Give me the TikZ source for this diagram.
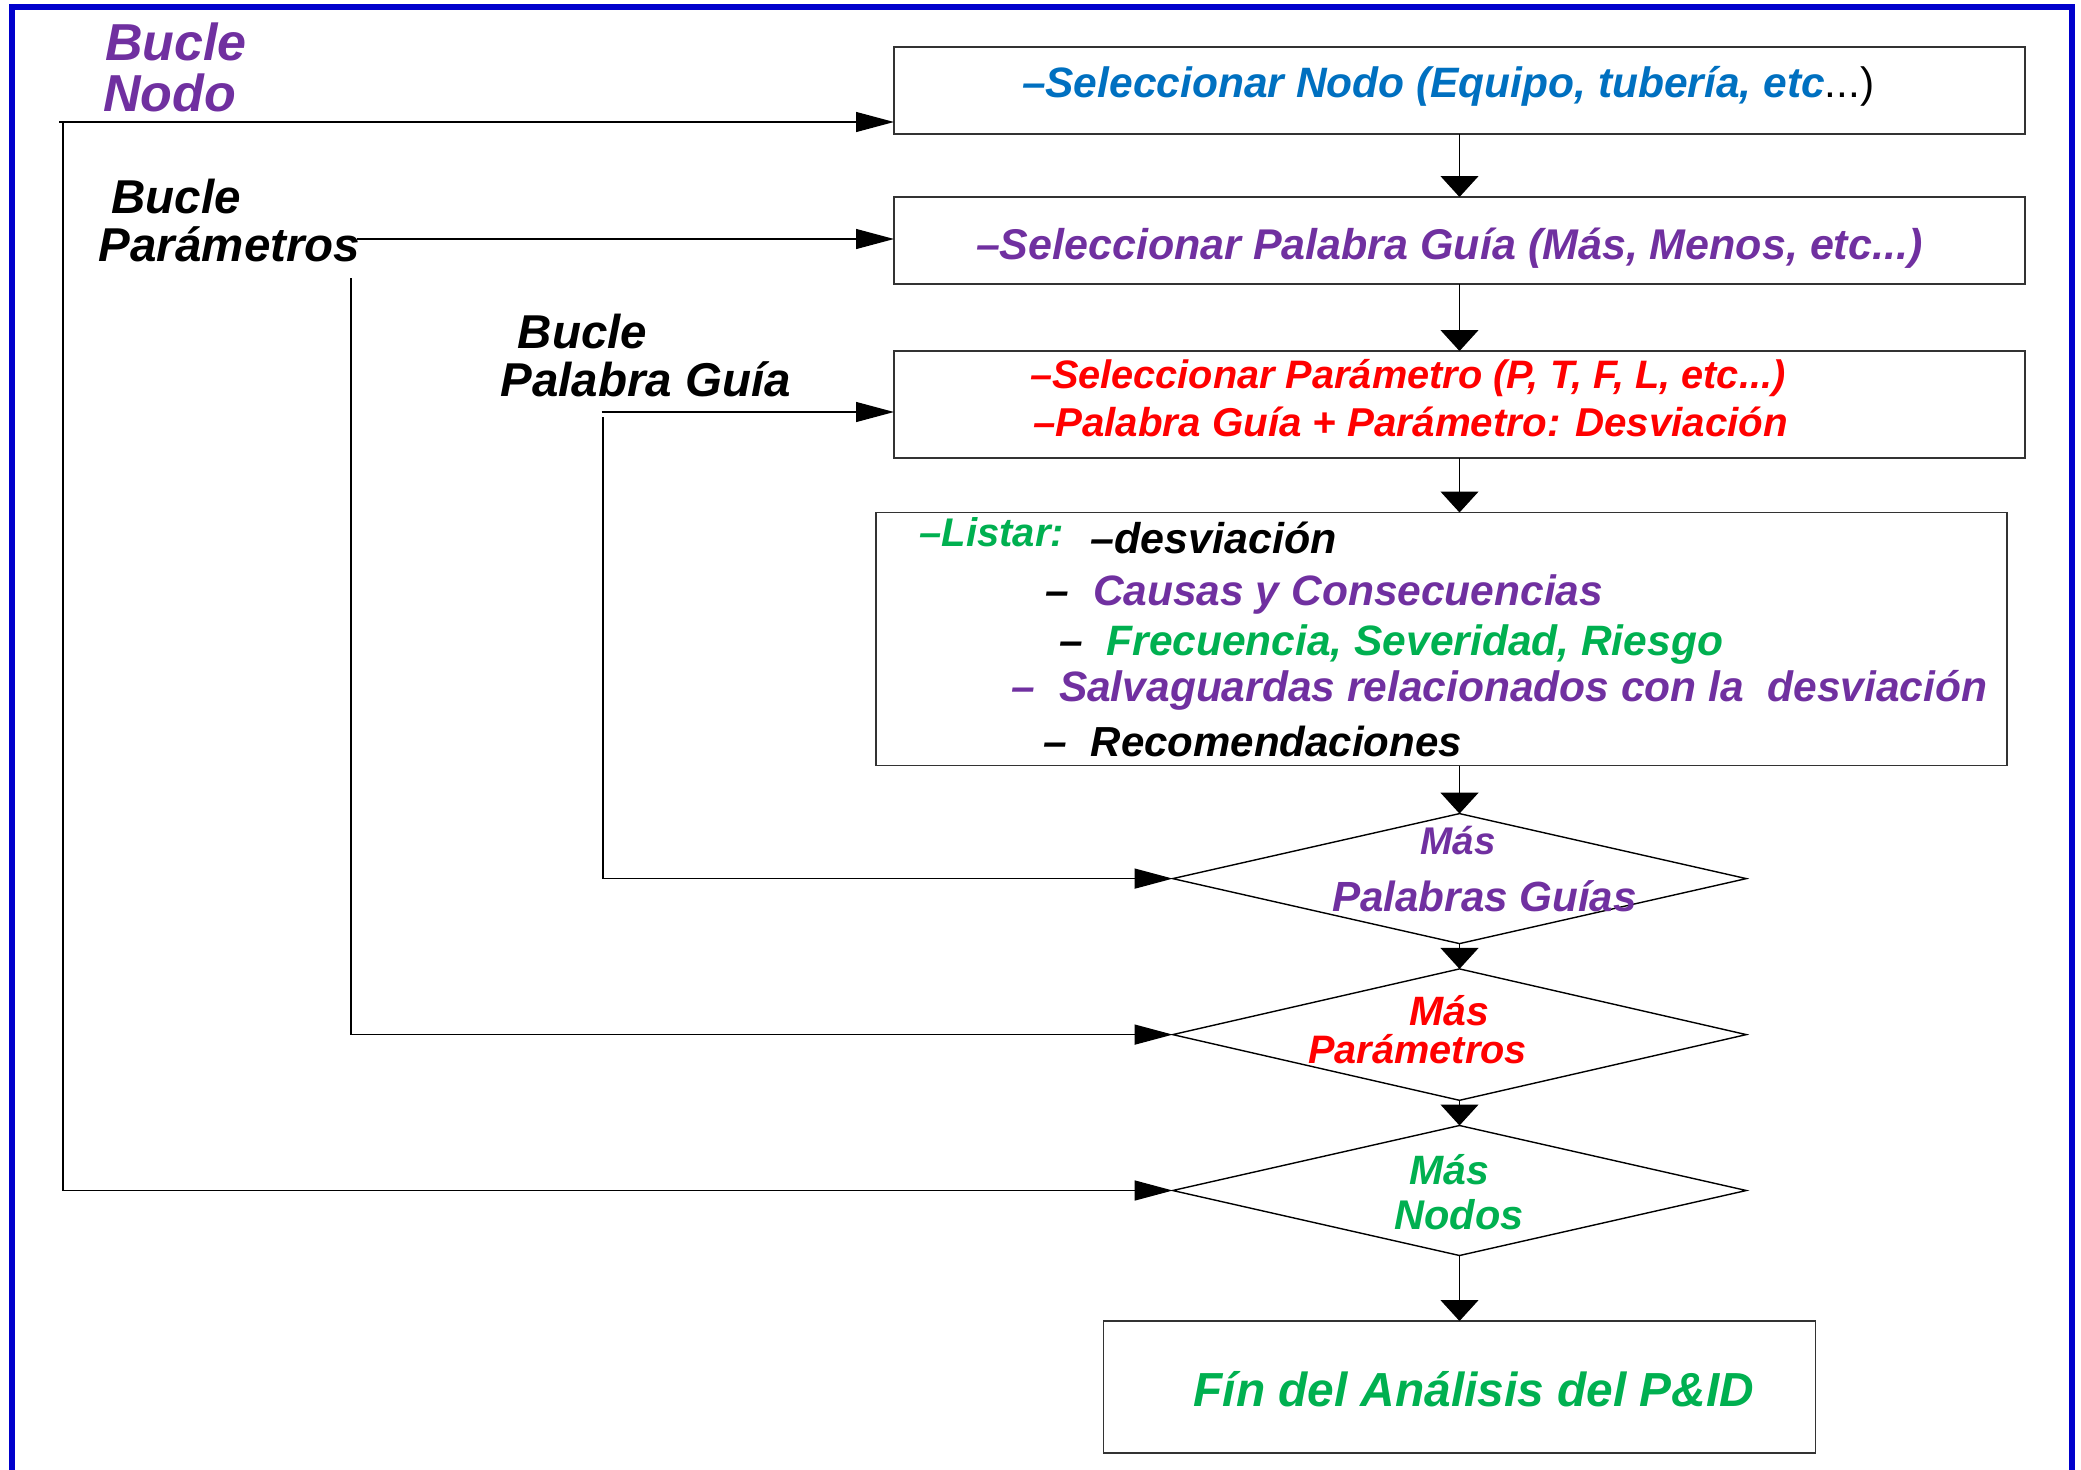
\documentclass[tikz,border=0pt]{standalone}
\usepackage{fontspec}
\setmainfont{Liberation Sans}
\usetikzlibrary{arrows.meta,shapes.geometric,calc}

\definecolor{hzpurple}{RGB}{112,48,160}
\definecolor{hzblue}{RGB}{0,112,192}
\definecolor{hzred}{RGB}{255,0,0}
\definecolor{hzgreen}{RGB}{0,176,80}
\definecolor{framecol}{RGB}{0,0,204}

\tikzset{
  stepbox/.style={draw=black!80, line width=1.6pt, rectangle, inner sep=0pt, outer sep=0pt},
  decision/.style={draw=black, line width=1.4pt, diamond, inner sep=0pt, outer sep=0pt,
    minimum width=573.6pt, minimum height=130pt},
  txt/.style={inner sep=0pt, outer sep=0pt, anchor=base west},
  sz/.style={font=\fontsize{#1}{#1}\selectfont\bfseries\itshape},
  link/.style={draw=black, line width=1.2pt},
  harr/.style={link, -{Triangle[length=38pt,width=20pt]}},
  varr/.style={link, -{Triangle[length=21pt,width=38pt]}},
}

\begin{document}
\begin{tikzpicture}[x=1pt, y=-1pt]
  \useasboundingbox (0,0) rectangle (2081,1470);

  % outer frame (open at the bottom)
  \draw[framecol, line width=5.5pt, line join=miter] (12,1480) -- (12,7) -- (2072,7) -- (2072,1480);

  % process boxes and decisions
  \node[stepbox, minimum width=1131pt, minimum height=87pt]  (box1) at (1459.5,90.5) {};
  \node[stepbox, minimum width=1131pt, minimum height=87pt]  (box2) at (1459.5,240.5) {};
  \node[stepbox, minimum width=1131pt, minimum height=107pt] (box3) at (1459.5,404.5) {};
  \node[stepbox, minimum width=1131pt, minimum height=253pt] (box4) at (1441.5,639) {};
  \node[decision] (d1) at (1459.5,878.6) {};
  \node[decision, minimum height=131.4pt] (d2) at (1459.5,1034.6) {};
  \node[decision] (d3) at (1459.5,1190.5) {};
  \node[stepbox, minimum width=712pt, minimum height=132pt] (box5) at (1459.5,1387) {};

  % main flow
  \draw[varr] (box1.south) -- (box2.north);
  \draw[varr] (box2.south) -- (box3.north);
  \draw[varr] (box3.south) -- (box3.south |- box4.north);
  \draw[varr] (box3.south |- box4.south) -- (d1.north);
  \draw[varr] (d1.south) -- (d2.north);
  \draw[varr] (d2.south) -- (d3.north);
  \draw[varr] (d3.south) -- (d3.south |- box5.north);

  % loop connectors
  \coordinate (nodoStart) at (59.3,122);
  \coordinate (nodoBend)  at (63,122);
  \coordinate (parStart)  at (357,239);
  \coordinate (parBend)   at (351,278);
  \coordinate (pgStart)   at (601.5,412);
  \coordinate (pgBend)    at (603,417);
  \draw[harr] (nodoStart) -- (nodoStart -| box1.west);
  \draw[harr] (nodoBend) |- (d3.west);
  \draw[harr] (parStart) -- (parStart -| box2.west);
  \draw[harr] (parBend) |- (d2.west);
  \draw[harr] (pgStart) -- (pgStart -| box3.west);
  \draw[harr] (pgBend) |- (d1.west);

  % loop labels
  \node[txt, sz=52, text=hzpurple] (lnA) at (105,60) {Bucle};
  \node[txt, sz=52, text=hzpurple] (lnB) at (103.3,111.7) {Nodo};
  \node[txt, sz=47.5] (lpA) at (111.6,213.3) {Bucle};
  \node[txt, sz=47.5] (lpB) at (98.9,261.7) {Parámetros};
  \node[txt, sz=47.5] (lgA) at (517.9,348.3) {Bucle};
  \node[txt, sz=47.5] (lgB) at (500.6,396.7) {Palabra Guía};

  % box texts
  \node[txt, sz=42.5, text=hzblue] (t1) at (1022,97.5)
    {–Seleccionar Nodo (Equipo, tubería, etc{\mdseries\upshape\color{black}...)}};
  \node[txt, sz=43, text=hzpurple] (t2) at (976,259.3)
    {–Seleccionar Palabra Guía (Más, Menos, etc...)};
  \node[txt, sz=39.7, text=hzred] (t3a) at (1030,388.3)
    {–Seleccionar Parámetro (P, T, F, L, etc...)};
  \node[txt, sz=40.3, text=hzred] (t3b) at (1033,436.7)
    {–Palabra Guía + Parámetro: Desviación};

  % list box
  \node[txt, sz=40, text=hzgreen] (t4a) at (919.5,546.7) {–Listar:};
  \node[txt, sz=43] (t4b) at (1090.7,553.3) {–desviación};
  \node[txt, sz=42.5] (t4cd) at (1045.7,605) {–};
  \node[txt, sz=42.5, text=hzpurple] (t4c) at (1093,605) {Causas y Consecuencias};
  \node[txt, sz=42.5] (t4dd) at (1059,655) {–};
  \node[txt, sz=42.5, text=hzgreen] (t4d) at (1106.5,655) {Frecuencia, Severidad, Riesgo};
  \node[txt, sz=42.5, text=hzpurple] (t4ed) at (1011.8,701.7) {–};
  \node[txt, sz=42.5, text=hzpurple] (t4e) at (1059,701.7) {Salvaguardas relacionados con la\ \ desviación};
  \node[txt, sz=42.5] (t4fd) at (1043.4,756.7) {–};
  \node[txt, sz=42] (t4f) at (1090.7,756.7) {Recomendaciones};

  % decision texts
  \node[txt, sz=38.6, text=hzpurple] (q1a) at (1420.8,854.3) {Más};
  \node[txt, sz=42.2, text=hzpurple] (q1b) at (1332,911.4) {Palabras Guías};
  \node[txt, sz=41, text=hzred] (q2a) at (1409.8,1025.6) {Más};
  \node[txt, sz=39.7, text=hzred] (q2b) at (1308.4,1063.2) {Parámetros};
  \node[txt, sz=41, text=hzgreen] (q3a) at (1409.8,1184.9) {Más};
  \node[txt, sz=41.5, text=hzgreen] (q3b) at (1394.5,1229) {Nodos};

  % end box text
  \node[txt, sz=47.8, text=hzgreen] (t5) at (1193.5,1406.5) {Fín del Análisis del P\&ID};
\end{tikzpicture}
\end{document}
